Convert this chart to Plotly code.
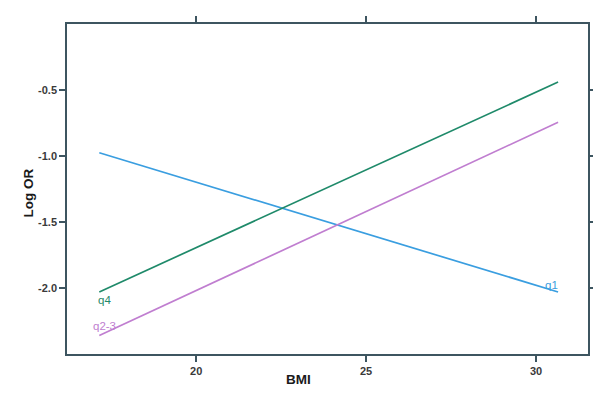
import plotly.graph_objects as go

bmi = [17.15, 30.65]
q1 = [-0.975, -2.03]
q4 = [-2.03, -0.44]
q23 = [-2.36, -0.745]

series = [
    ("q1", q1, "#3a9ee0", (30.45, -1.975)),
    ("q4", q4, "#1f8a6a", (17.3, -2.09)),
    ("q2-3", q23, "#c07ed0", (17.3, -2.29)),
]

fig = go.Figure()
for name, ys, col, (lx, ly) in series:
    fig.add_trace(go.Scatter(x=bmi, y=ys, mode="lines", name=name,
                             line=dict(color=col, width=1.7), showlegend=False))
    fig.add_annotation(x=lx, y=ly, text=name, showarrow=False,
                       font=dict(color=col, size=11.5, family="Liberation Sans"))

axis_common = dict(showline=True, linecolor="#3d5560", linewidth=1.5, mirror="allticks",
                   ticks="outside", ticklen=6, tickwidth=1.5, tickcolor="#3d5560",
                   showgrid=False, zeroline=False, automargin=False,
                   tickfont=dict(size=11, color="#3a3a3a", family="Liberation Sans",
                                 weight="bold"))

fig.update_xaxes(range=[16.2, 31.53], tickvals=[20, 25, 30], **axis_common)
fig.update_yaxes(range=[-2.5, 0.0], tickvals=[-2.0, -1.5, -1.0, -0.5],
                 ticktext=["-2.0", "-1.5", "-1.0", "-0.5"], **axis_common)

fig.add_annotation(xref="paper", yref="paper", x=(298.5 - 67) / 521, y=-(389 - 354) / 330,
                   text="<b>BMI</b>", showarrow=False,
                   font=dict(size=13.5, color="#1a1a1a", family="Liberation Sans"))
fig.add_annotation(xref="paper", yref="paper", x=-(67 - 18) / 521, y=(354 - 193) / 330,
                   text="<b>Log OR</b>", textangle=-90, showarrow=False,
                   font=dict(size=13.5, color="#1a1a1a", family="Liberation Sans"))

# page body adds an 8px offset; margins compensate so the plot box lands at x 67-588, y 24-354
fig.update_layout(width=601, height=399,
                  margin=dict(l=59, r=21, t=16, b=53, autoexpand=False),
                  plot_bgcolor="white", paper_bgcolor="white")

fig.write_html("out.html")
